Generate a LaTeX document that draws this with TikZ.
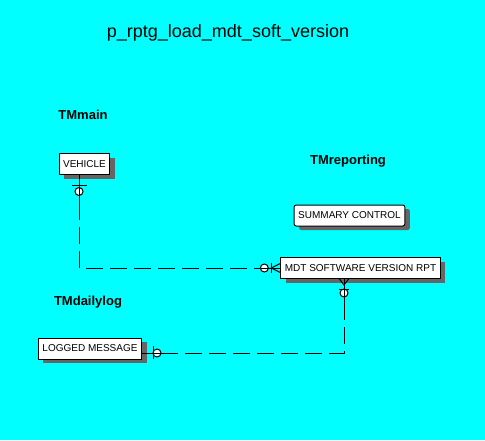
\documentclass[tikz,border=0pt]{standalone}
\usepackage{fontspec}
\setmainfont{Liberation Sans}
\usepackage{xcolor}
\definecolor{aqua}{RGB}{0,255,255}
\usetikzlibrary{calc,shadows}

\begin{document}
\begin{tikzpicture}[x=1pt,y=-1pt,
  ent/.style={rectangle, draw=black, fill=white, line width=1pt, inner xsep=4pt, minimum height=21pt,
    font=\fontsize{10}{12}\selectfont,
    drop shadow={shadow xshift=5pt, shadow yshift=-4pt, fill=black!60, opacity=1}},
  grp/.style={font=\fontsize{13}{15}\selectfont\bfseries},
  rel/.style={line width=1pt, black},
  reldash/.style={rel, dash pattern=on 17pt off 7pt},
  opt/.style={draw=black, fill=white, line width=1pt}
]
  \fill[aqua] (0,0) rectangle (485,440);
  \useasboundingbox (0,0) rectangle (485,440);

  \node[font=\fontsize{18}{21}\selectfont] (title) at (228,33) {p\_rptg\_load\_mdt\_soft\_version};

  \node[grp] (tmmain) at (83,115) {TMmain};
  \node[grp] (tmrep) at (348,161) {TMreporting};
  \node[grp] (tmdaily) at (88,302) {TMdailylog};

  \node[ent] (veh) at (84.5,164) {VEHICLE};
  \node[ent, rounded corners=2pt] (sumctl) at (349.5,215.5) {SUMMARY CONTROL};
  \node[ent] (mdtrpt) at (360.5,268) {MDT SOFTWARE VERSION RPT};
  \node[ent] (logmsg) at (90,348.5) {LOGGED MESSAGE};

  \coordinate (c1) at (79,268);
  \coordinate (c2) at (344,353);

  % VEHICLE -- MDT SOFTWARE VERSION RPT
  \draw[rel] (veh.south -| c1) -- ($(veh.south -| c1)+(0,28)$);
  \draw[reldash] ($(veh.south -| c1)+(0,28)$) -- (c1) -- ($(mdtrpt.west |- c1)+(-24,0)$);
  \draw[rel] ($(mdtrpt.west |- c1)+(-24,0)$) -- (mdtrpt.west |- c1);
  \draw[rel] ($(veh.south -| c1)+(-7.5,10)$) -- ++(15,0);
  \draw[opt] ($(veh.south -| c1)+(0,16.5)$) circle (4);
  \draw[rel] ($(veh.south -| c1)+(0,10)$) -- ++(0,12);
  \draw[opt] ($(mdtrpt.west |- c1)+(-16,0)$) circle (4);
  \draw[rel] ($(mdtrpt.west |- c1)+(-21,0)$) -- (mdtrpt.west |- c1);
  \draw[rel] ($(mdtrpt.west |- c1)+(-9,-5)$) -- ++(0,10);
  \draw[rel] ($(mdtrpt.west |- c1)+(0,-4.5)$) -- ($(mdtrpt.west |- c1)+(-9,0)$) -- ($(mdtrpt.west |- c1)+(0,4.5)$);

  % MDT SOFTWARE VERSION RPT -- LOGGED MESSAGE
  \draw[rel] (mdtrpt.south -| c2) -- ($(mdtrpt.south -| c2)+(0,24)$);
  \draw[reldash] ($(mdtrpt.south -| c2)+(0,24)$) -- (c2) -- ($(logmsg.east |- c2)+(27,0)$);
  \draw[rel] ($(logmsg.east |- c2)+(27,0)$) -- (logmsg.east |- c2);
  \draw[rel] ($(mdtrpt.south -| c2)+(-4.5,0)$) -- ($(mdtrpt.south -| c2)+(0,6)$) -- ($(mdtrpt.south -| c2)+(4.5,0)$);
  \draw[rel] ($(mdtrpt.south -| c2)+(-5,10)$) -- ++(10,0);
  \draw[opt] ($(mdtrpt.south -| c2)+(0,14)$) circle (4);
  \draw[rel] ($(mdtrpt.south -| c2)+(0,9)$) -- ++(0,10);
  \draw[rel] ($(logmsg.east |- c2)+(11,-7)$) -- ++(0,13);
  \draw[opt] ($(logmsg.east |- c2)+(15,0)$) circle (4);
  \draw[rel] ($(logmsg.east |- c2)+(10,0)$) -- ++(10,0);
\end{tikzpicture}
\end{document}
